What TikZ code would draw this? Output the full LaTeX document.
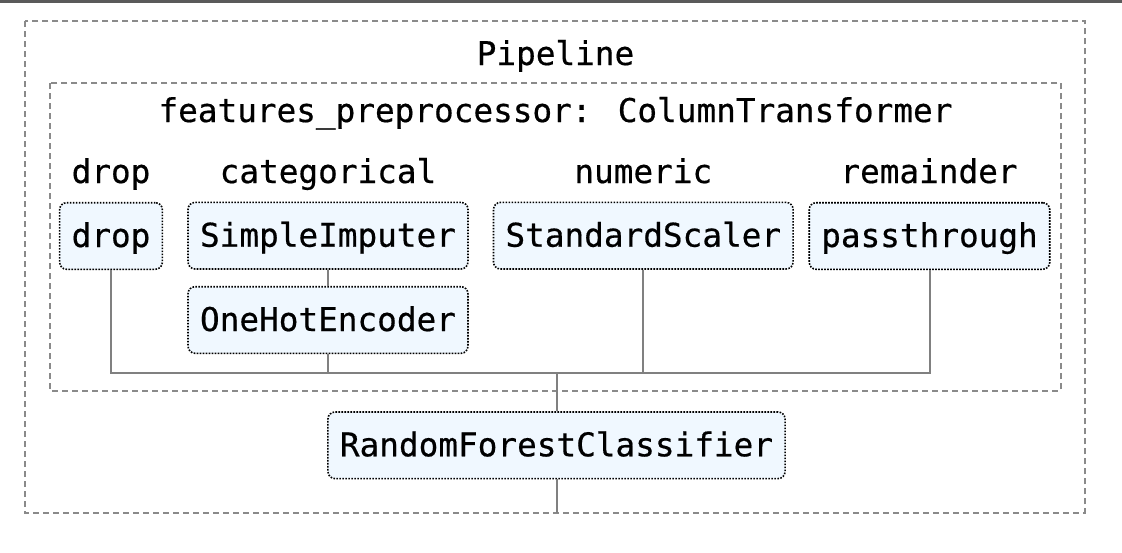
\documentclass[tikz,border=0pt]{standalone}
\usepackage{fontspec}
\newfontfamily\codefont{DejaVu Sans Mono}[FakeBold=0.5]
\definecolor{boxfill}{HTML}{F0F8FF}
\definecolor{framegray}{HTML}{8A8A8A}
\definecolor{conngray}{HTML}{808080}
\definecolor{bargray}{HTML}{5A5A5A}
\begin{document}
\begin{tikzpicture}[x=1pt,y=-1pt,
  every node/.style={font=\codefont\fontsize{32.7}{36}\selectfont, text=black},
  estimator/.style={draw=black, line width=1.6pt, dash pattern=on 1.6pt off 1.4pt,
    fill=boxfill, rounded corners=7pt, inner xsep=12pt, inner ysep=0pt,
    minimum height=66.6pt, text height=22pt, text depth=0pt, anchor=center},
  lbl/.style={anchor=base, inner sep=0pt},
  frame/.style={draw=framegray, line width=2pt, dash pattern=on 6pt off 4pt},
  conn/.style={draw=conngray, line width=2pt}]
  \useasboundingbox (0,0) rectangle (1122,552);

  % window edge
  \fill[bargray] (0,0) rectangle (1122,2.6);

  % pipeline and column transformer frames
  \draw[frame] (25,21) rectangle (1085,512.7);
  \draw[frame] (50,83) rectangle (1061,390.7);

  % titles
  \node[lbl] (ptitle) at (555.5,65) {Pipeline};
  \node[lbl] (ctitle) at (555.5,122) {features\string_preprocessor: ColumnTransformer};

  % column labels
  \node[lbl] (ldrop) at (111,183) {drop};
  \node[lbl] (lcat)  at (328,183) {categorical};
  \node[lbl] (lnum)  at (643.3,183) {numeric};
  \node[lbl] (lrem)  at (929,183) {remainder};

  % collecting line and exit point
  \coordinate (bus) at (556.5,372.7);
  \coordinate (exit) at (556.5,512.7);

  % estimators
  \node[estimator] (drop) at (111,236) {drop};
  \node[estimator] (si)   at (328,235.7) {SimpleImputer};
  \node[estimator] (ohe)  at (328,320) {OneHotEncoder};
  \node[estimator] (ss)   at (643.3,235.7) {StandardScaler};
  \node[estimator] (pt)   at (929.5,236) {passthrough};
  \node[estimator] (rfc)  at (556.5,445.3) {RandomForestClassifier};

  % connectors
  \draw[conn] (si.south) -- (ohe.north);
  \draw[conn] (drop.south) -- (drop.south |- bus) -- (pt.south |- bus) -- (pt.south);
  \draw[conn] (ohe.south) -- (ohe.south |- bus);
  \draw[conn] (ss.south) -- (ss.south |- bus);
  \draw[conn] (bus) -- (rfc.north);
  \draw[conn] (rfc.south) -- (exit);
\end{tikzpicture}
\end{document}
